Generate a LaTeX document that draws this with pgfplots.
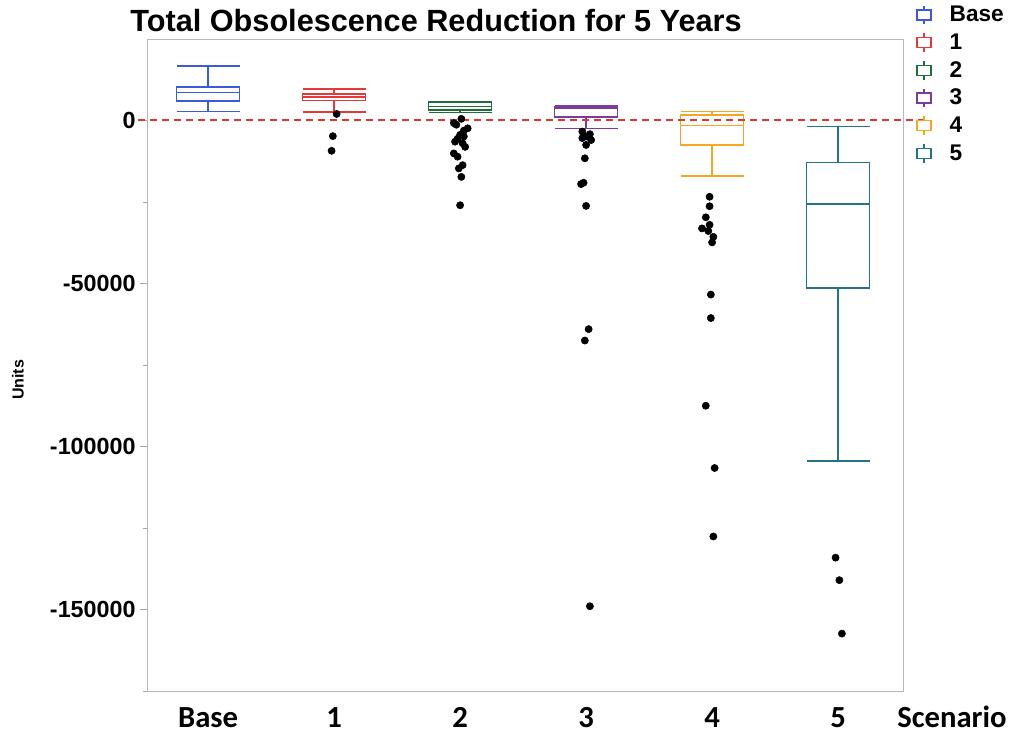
\documentclass[border=0pt]{standalone}
\usepackage{pgfplots}
\pgfplotsset{compat=1.18}
\usepgfplotslibrary{statistics}
\usepackage{fontspec}
\setmainfont{Liberation Sans}
\newfontfamily\calibri{Carlito}
\definecolor{cBase}{HTML}{3B5BDB}
\definecolor{cOne}{HTML}{E5383B}
\definecolor{cTwo}{HTML}{1F6E3A}
\definecolor{cThree}{HTML}{7B3C9B}
\definecolor{cFour}{HTML}{F5A623}
\definecolor{cFive}{HTML}{237584}
\definecolor{cDash}{HTML}{D9392E}
\pgfplotsset{
  bxicon/.style={legend image code/.code={
    \draw[##1,line width=1pt] (5.25pt,-7pt) -- (5.25pt,-3.75pt);
    \draw[##1,line width=1pt] (5.25pt,3.75pt) -- (5.25pt,7pt);
    \draw[##1,line width=1pt] (0pt,-3.75pt) rectangle (10.5pt,3.75pt);}},
  outl/.style={only marks, mark=*, mark size=2.7pt, black, forget plot},
  bx/.style={line width=1.1pt, forget plot,
    /pgfplots/boxplot/every box/.style={line width=1.3pt},
    /pgfplots/boxplot/every median/.style={line width=1.3pt},
    /pgfplots/boxplot/every whisker/.style={line width=1.1pt}},
}
\begin{document}
\begin{tikzpicture}
\path[use as bounding box] (0pt,0pt) rectangle (758.25pt,550.5pt);
\begin{axis}[
  at={(110.25pt,32.25pt)}, anchor=south west,
  width=567pt, height=489pt, scale only axis,
  clip=false,
  boxplot/draw direction=y,
  xmin=-0.485, xmax=5.515, ymin=-175, ymax=25,
  xtick={0,1,2,3,4,5}, xticklabels={Base,1,2,3,4,5},
  xtick style={draw=none},
  xticklabel style={font=\calibri\bfseries\fontsize{23}{23}\selectfont, yshift=-4pt},
  ytick={-150,-100,-50,0},
  yticklabels={-150000,-100000,-50000,0},
  minor ytick={-175,-125,-75,-25},
  scaled y ticks=false,
  yticklabel style={font=\bfseries\fontsize{17.5}{17.5}\selectfont},
  ytick pos=left, tick align=outside,
  major tick length=5pt, minor tick length=3pt,
  ytick style={draw=gray!70, line width=0.5pt},
  minor y tick style={draw=gray!70, line width=0.5pt},
  axis line style={draw=gray!55, line width=0.5pt},
  legend style={at={(1.012,1.058)}, anchor=north west, draw=none, fill=none,
    font=\bfseries\fontsize{17}{17}\selectfont, row sep=4.5pt, column sep=12pt,
    nodes={inner sep=1.5pt}},
  legend cell align=left,
]
% legend entries
\addlegendimage{bxicon, draw=cBase}\addlegendentry{Base}
\addlegendimage{bxicon, draw=cOne}\addlegendentry{1}
\addlegendimage{bxicon, draw=cTwo}\addlegendentry{2}
\addlegendimage{bxicon, draw=cThree}\addlegendentry{3}
\addlegendimage{bxicon, draw=cFour}\addlegendentry{4}
\addlegendimage{bxicon, draw=cFive}\addlegendentry{5}

% Base (values in thousands of units)
\addplot[cBase, boxplot prepared={
  lower whisker=2.7, lower quartile=5.9, median=8.6,
  upper quartile=10.2, upper whisker=16.7,
  draw position=0, box extend=0.5, whisker extend=0.5}, bx] coordinates {};
% 1
\addplot[cOne, boxplot prepared={
  lower whisker=2.6, lower quartile=6.1, median=7.1,
  upper quartile=8.1, upper whisker=9.7,
  draw position=1, box extend=0.5, whisker extend=0.5}, bx] coordinates {};
\addplot[outl] coordinates {(1.02,2.0) (0.99,-4.8) (0.98,-9.3)};
% 2
\addplot[cTwo, boxplot prepared={
  lower whisker=2.4, lower quartile=3.3, median=4.3,
  upper quartile=5.6, upper whisker=5.9,
  draw position=2, box extend=0.5, whisker extend=0.5}, bx] coordinates {};
\addplot[outl] coordinates {
  (2.01,0.5) (1.95,-0.8) (1.97,-1.3) (2.06,-2.4) (2.03,-3.1) (2.00,-4.4)
  (2.03,-4.9) (1.98,-5.6) (1.96,-6.5) (2.02,-7.0) (2.04,-8.1)
  (1.95,-10.1) (1.98,-11.1) (2.02,-13.7) (1.99,-14.7) (2.01,-17.3)
  (2.00,-26.0)};
% 3
\addplot[cThree, boxplot prepared={
  lower whisker=-2.5, lower quartile=1.1, median=3.7,
  upper quartile=4.2, upper whisker=4.4,
  draw position=3, box extend=0.5, whisker extend=0.5}, bx] coordinates {};
\addplot[outl] coordinates {
  (2.97,-3.4) (3.00,-4.9) (3.04,-6.0) (2.97,-5.4) (3.03,-4.2) (3.00,-7.5)
  (2.99,-11.6) (2.98,-19.1) (2.96,-19.5) (3.00,-26.2)
  (3.02,-64.0) (2.99,-67.5) (3.03,-149.0)};
% 4
\addplot[cFour, boxplot prepared={
  lower whisker=-17.0, lower quartile=-7.6, median=-1.5,
  upper quartile=1.6, upper whisker=2.7,
  draw position=4, box extend=0.5, whisker extend=0.5}, bx] coordinates {};
\addplot[outl] coordinates {
  (3.98,-23.4) (3.98,-26.3) (3.95,-29.7) (3.92,-33.1) (3.98,-32.0)
  (3.97,-33.9) (4.01,-35.7) (4.00,-37.4) (3.99,-53.4) (3.99,-60.6)
  (3.95,-87.5) (4.02,-106.6) (4.01,-127.6)};
% 5
\addplot[cFive, boxplot prepared={
  lower whisker=-104.4, lower quartile=-51.3, median=-25.6,
  upper quartile=-12.9, upper whisker=-1.9,
  draw position=5, box extend=0.5, whisker extend=0.5}, bx] coordinates {};
\addplot[outl] coordinates {(4.98,-134.1) (5.01,-141.0) (5.03,-157.4)};
% zero reference line
\addplot[cDash, line width=1.5pt, dash pattern=on 5.5pt off 3.5pt, forget plot]
  coordinates {(-0.56,0) (5.69,0)};
\end{axis}
\node[anchor=base, font=\bfseries\fontsize{23}{23}\selectfont] at (327pt,526.5pt)
  {Total Obsolescence Reduction for 5 Years};
\node[rotate=90, font=\bfseries\fontsize{12}{12}\selectfont] at (13.5pt,265.5pt) {Units};
\node[anchor=base, font=\calibri\bfseries\fontsize{23}{23}\selectfont] at (714pt,4.5pt) {Scenario};
\end{tikzpicture}
\end{document}
